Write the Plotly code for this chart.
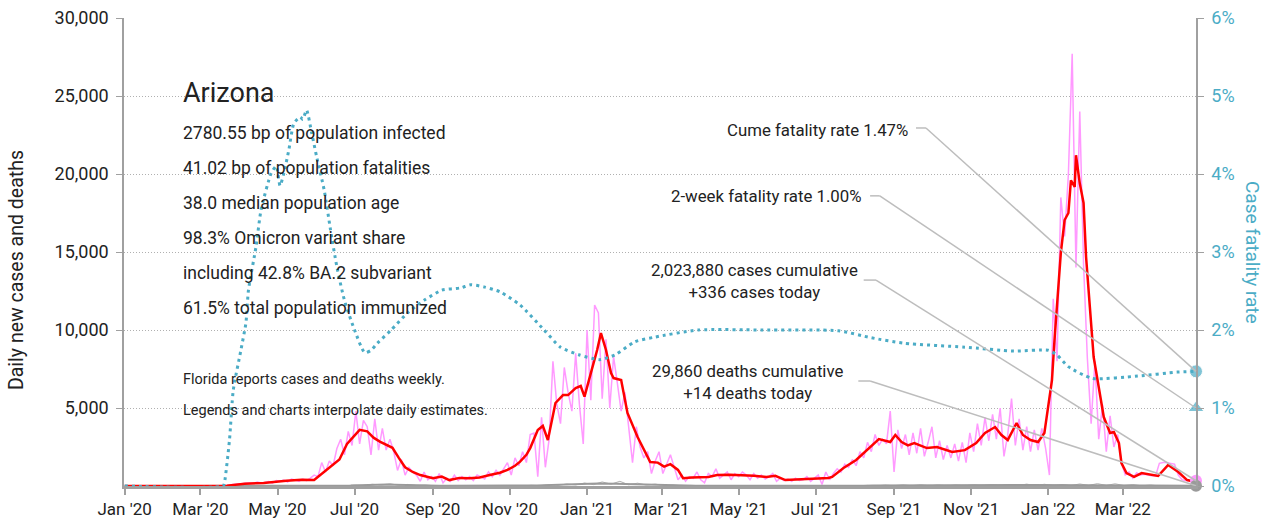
import pandas as pd
import plotly.graph_objects as go

# ---------------- data ----------------
last_date = "2022-04-28"

cfr_dates = ["2020-01-01", "2020-03-19", "2020-03-20", "2020-03-24", "2020-03-27", "2020-04-02",
             "2020-04-06", "2020-04-08", "2020-04-14", "2020-04-18", "2020-04-26", "2020-04-30",
             "2020-05-03", "2020-05-06", "2020-05-10", "2020-05-14", "2020-05-19", "2020-05-21",
             "2020-05-24", "2020-05-28", "2020-06-01", "2020-06-07", "2020-06-12", "2020-06-17",
             "2020-06-23", "2020-07-01", "2020-07-09", "2020-07-14", "2020-07-19", "2020-07-30",
             "2020-08-12", "2020-08-25", "2020-09-08", "2020-09-23", "2020-10-01", "2020-10-12",
             "2020-10-24", "2020-11-09", "2020-11-28", "2020-12-11", "2020-12-26", "2021-01-11",
             "2021-01-23", "2021-02-08", "2021-02-24", "2021-03-30", "2021-05-19", "2021-07-19",
             "2021-08-14", "2021-09-09", "2021-10-27", "2021-12-05", "2022-01-01", "2022-01-08",
             "2022-01-17", "2022-02-05", "2022-03-13", "2022-04-13", "2022-04-28"]
cfr_pct = [0, 0, 0.04, 0.59, 1.23, 1.74,
           2.09, 2.51, 3.07, 3.54, 4.01, 4.10,
           3.85, 4.01, 4.31, 4.65, 4.73, 4.70,
           4.82, 4.53, 4.22, 3.79, 3.28, 2.81,
           2.38, 2.00, 1.71, 1.74, 1.83, 2.00,
           2.22, 2.38, 2.51, 2.54, 2.58, 2.55,
           2.49, 2.32, 2.00, 1.78, 1.68, 1.62,
           1.68, 1.85, 1.91, 2.00, 2.00, 1.99,
           1.90, 1.83, 1.78, 1.73, 1.74, 1.68,
           1.53, 1.38, 1.41, 1.46, 1.47]

avg_dates = ["2020-01-01", "2020-03-15", "2020-03-22", "2020-04-05", "2020-04-20", "2020-05-08",
             "2020-05-20", "2020-05-30", "2020-06-08", "2020-06-19", "2020-06-25", "2020-07-01",
             "2020-07-05", "2020-07-11", "2020-07-16", "2020-07-21", "2020-07-26", "2020-07-31",
             "2020-08-05", "2020-08-10", "2020-08-16", "2020-08-22", "2020-09-01", "2020-09-08",
             "2020-09-14", "2020-09-22", "2020-09-30", "2020-10-08", "2020-10-16", "2020-10-24",
             "2020-10-30", "2020-11-05", "2020-11-09", "2020-11-14", "2020-11-17", "2020-11-23",
             "2020-11-27", "2020-12-01", "2020-12-07", "2020-12-13", "2020-12-17", "2020-12-23",
             "2020-12-27", "2020-12-30", "2021-01-04", "2021-01-09", "2021-01-12", "2021-01-16",
             "2021-01-20", "2021-01-22", "2021-01-28", "2021-02-02", "2021-02-10", "2021-02-15",
             "2021-02-20", "2021-02-26", "2021-03-03", "2021-03-08", "2021-03-14", "2021-03-18",
             "2021-03-25", "2021-04-07", "2021-04-14", "2021-04-24", "2021-05-03", "2021-05-13",
             "2021-05-23", "2021-05-30", "2021-06-07", "2021-06-20", "2021-07-01", "2021-07-11",
             "2021-07-14", "2021-07-23", "2021-08-02", "2021-08-12", "2021-08-20", "2021-08-29",
             "2021-09-02", "2021-09-07", "2021-09-12", "2021-09-17", "2021-09-27", "2021-10-05",
             "2021-10-12", "2021-10-17", "2021-10-27", "2021-11-05", "2021-11-12", "2021-11-20",
             "2021-11-25", "2021-11-30", "2021-12-07", "2021-12-12", "2021-12-18", "2021-12-24",
             "2021-12-29", "2022-01-01", "2022-01-04", "2022-01-06", "2022-01-09", "2022-01-11",
             "2022-01-14", "2022-01-17", "2022-01-19", "2022-01-22", "2022-01-23", "2022-01-26",
             "2022-01-29", "2022-01-31", "2022-02-03", "2022-02-06", "2022-02-10", "2022-02-14",
             "2022-02-19", "2022-02-22", "2022-02-26", "2022-02-28", "2022-03-04", "2022-03-10",
             "2022-03-16", "2022-03-29", "2022-04-06", "2022-04-14", "2022-04-21", "2022-04-28"]
avg_cases = [0, 0, 20, 150, 200, 330,
             400, 380, 1000, 1700, 2700, 3200,
             3600, 3500, 3100, 2850, 2650, 2450,
             1800, 1200, 900, 700, 500, 600,
             380, 520, 500, 550, 700, 850,
             1030, 1300, 1560, 2000, 2430, 3590,
             3850, 2950, 5320, 5830, 5830, 6280,
             6410, 5730, 7240, 8720, 9800, 8720,
             7240, 6920, 6800, 4680, 3140, 2300,
             1540, 1500, 1240, 1400, 1030, 500,
             550, 580, 700, 720, 700, 650,
             580, 650, 380, 420, 450, 510,
             580, 1150, 1670, 2430, 3010, 2820,
             3270, 2820, 2600, 2750, 2430, 2500,
             2300, 2180, 2300, 2750, 3400, 3780,
             3270, 2950, 4040, 3270, 2950, 2820,
             3400, 5060, 6790, 9360, 12370, 14940,
             17050, 17500, 19600, 19170, 21200, 19400,
             18140, 14680, 11470, 8270, 6350, 4420,
             3400, 3460, 2750, 1470, 830, 580,
             830, 640, 1350, 900, 380, 260]

raw_start = "2020-03-01"   # daily reports, one reading every 3 days
raw_cases = [0, 0, 0, 2, 5, 10, 25, 40, 80, 120,
             150, 140, 200, 190, 170, 250, 200, 230, 280, 180,
             350, 300, 380, 250, 450, 380, 300, 450, 350, 500,
             700, 600, 1500, 900, 1600, 1300, 2400, 3000, 2000, 3500,
             2600, 4800, 2700, 4200, 3800, 2000, 4300, 2300, 3700, 2300,
             3000, 2200, 1000, 1700, 700, 1200, 900, 700, 300, 900,
             400, 600, 300, 800, 200, 500, 300, 700, 350, 600,
             400, 600, 350, 700, 600, 450, 900, 600, 1000, 700,
             1100, 1500, 700, 1800, 1300, 2200, 1500, 3300, 3400, 600,
             4400, 1200, 3000, 8000, 5300, 4000, 7600, 6000, 4800, 8500,
             5200, 2700, 10000, 5500, 11600, 11100, 5600, 9400, 5000, 8300,
             6600, 4800, 6000, 3600, 1500, 3800, 2500, 1800, 2200, 800,
             1600, 2200, 800, 1400, 2000, 1200, 400, 700, 300, 600,
             500, 900, 400, 200, 800, 600, 1100, 500, 700, 900,
             400, 800, 600, 900, 700, 400, 800, 500, 700, 450,
             600, 800, 300, 500, 350, 450, 300, 500, 350, 400,
             600, 300, 500, 700, 100, 900, 400, 800, 1100, 900,
             1400, 1200, 1700, 1300, 2200, 1800, 2800, 2200, 3300, 2600,
             3000, 2700, 4800, 900, 3600, 2400, 3300, 2000, 3400, 2100,
             3700, 1900, 2800, 3800, 1800, 2900, 1700, 2600, 1800, 2700,
             1600, 2800, 1500, 3400, 2200, 4000, 2600, 4400, 2900, 4600,
             3000, 5000, 1900, 3300, 5600, 2600, 4300, 2300, 3800, 2200,
             3600, 2300, 3700, 2400, 700, 12000, 8000, 18500, 16000, 20000,
             27700, 14000, 24000, 14200, 8200, 4000, 8000, 3000, 5200, 2200,
             4500, 2500, 3300, 1500, 700, 900, 500, 850, 700, 750,
             700, 650, 650, 1450, 1500, 1500, 1450, 1400, 700, 400,
             350, 340, 345]
cases_today = 336

deaths_start = "2020-03-01"  # weekly readings
deaths_avg = [0, 0, 0, 1, 3, 8, 12, 15, 18, 15, 18, 20, 15, 12, 15, 25, 30, 35,
              50, 70, 80, 90, 80, 60, 45, 35, 25, 20, 15, 12, 10, 8, 8, 10, 12,
              15, 20, 30, 40, 50, 60, 80, 100, 120,
              140, 160, 170, 150, 130, 110, 90, 70, 50, 35, 25, 20, 15, 12, 10, 10, 9,
              9, 10, 9, 8, 8, 8, 7, 7, 7, 8, 9, 10, 12, 15, 20, 25, 30, 35,
              38, 40, 40, 40, 38, 35, 35, 35, 37, 40, 45, 50, 55, 60, 65, 65, 65,
              60, 55, 60, 70, 80, 85, 85, 80, 60, 50, 40, 30, 20, 15, 14, 14, 14]
deaths_raw = [0, 0, 0, 2, 5, 12, 8, 22, 14, 25, 10, 30, 8, 20, 10, 40, 20, 55,
              30, 110, 60, 140, 50, 100, 30, 60, 15, 35, 5, 25, 4, 15, 3, 18, 6,
              25, 12, 45, 25, 80, 40, 130, 70, 190,
              90, 260, 120, 300, 80, 180, 60, 120, 30, 60, 12, 35, 5, 20, 4, 18, 3,
              16, 5, 15, 3, 14, 3, 12, 2, 13, 3, 16, 4, 22, 8, 35, 12, 55, 20,
              70, 20, 75, 15, 65, 15, 60, 20, 70, 20, 80, 25, 100, 30, 120, 25, 110,
              25, 100, 30, 130, 40, 150, 40, 140, 30, 90, 15, 60, 5, 30, 3, 28, 5]
deaths_today = 14

cume_fatality = 1.47
twoweek_fatality = 1.00

state_name = "Arizona"
stats_lines = ["2780.55 bp of population infected",
               "41.02 bp of population fatalities",
               "38.0 median population age",
               "98.3% Omicron variant share",
               "including 42.8% BA.2 subvariant",
               "61.5% total population immunized"]
note_lines = ["Florida reports cases and deaths weekly.",
              "Legends and charts interpolate daily estimates."]
cases_cumulative = "2,023,880"
deaths_cumulative = "29,860"

# ---------------- styling ----------------
FONT = "Roboto, Liberation Sans, sans-serif"
TEAL = "#4bacc6"
PINK = "#ff99ff"
RED = "#ff0000"
GRAY = "#9a9a9a"
INK = "#222222"
LEAD = "#bdbdbd"
AX = "#a0a0a0"

raw_dates = list(pd.date_range(raw_start, periods=len(raw_cases), freq="3D")) + [pd.Timestamp(last_date)]
raw_vals = raw_cases + [cases_today]
d_dates = list(pd.date_range(deaths_start, periods=len(deaths_avg), freq="7D")) + [pd.Timestamp(last_date)]
d_raw_dates = list(pd.date_range("2020-03-04", periods=len(deaths_raw), freq="7D")) + [pd.Timestamp(last_date)]

fig = go.Figure()
fig.add_trace(go.Scatter(x=raw_dates, y=raw_vals, mode="lines",
                         line=dict(color=PINK, width=1.5), hoverinfo="skip"))
fig.add_trace(go.Scatter(x=d_raw_dates, y=deaths_raw + [deaths_today], mode="lines",
                         line=dict(color="#b0b0b0", width=1), hoverinfo="skip"))
fig.add_trace(go.Scatter(x=d_dates, y=deaths_avg + [deaths_today], mode="lines",
                         line=dict(color=GRAY, width=2), hoverinfo="skip"))
fig.add_trace(go.Scatter(x=avg_dates, y=avg_cases, mode="lines",
                         line=dict(color=RED, width=2.5), hoverinfo="skip"))
fig.add_trace(go.Scatter(x=cfr_dates, y=cfr_pct, mode="lines", yaxis="y2",
                         line=dict(color=TEAL, width=3, dash="3px,4px", shape="spline", smoothing=0.6),
                         hoverinfo="skip"))
# end markers
fig.add_trace(go.Scatter(x=[last_date], y=[cases_today], mode="markers", cliponaxis=False,
                         marker=dict(color=PINK, size=12), hoverinfo="skip"))
fig.add_trace(go.Scatter(x=[last_date], y=[deaths_today], mode="markers", cliponaxis=False,
                         marker=dict(color=GRAY, size=12), hoverinfo="skip"))
fig.add_trace(go.Scatter(x=[last_date, last_date], y=[cume_fatality, twoweek_fatality], mode="markers",
                         yaxis="y2", cliponaxis=False,
                         marker=dict(color=TEAL, size=[13, 14], symbol=["circle", "triangle-up"]),
                         hoverinfo="skip"))

annotations = []
annotations.append(dict(text=state_name, xref="paper", yref="paper", x=0.053, y=0.840,
                        xanchor="left", yanchor="middle", showarrow=False,
                        font=dict(size=27, color=INK)))
for i, line in enumerate(stats_lines):
    annotations.append(dict(text=line, xref="paper", yref="paper", x=0.053, y=0.7543 - i * 0.0748,
                            xanchor="left", yanchor="middle", showarrow=False,
                            font=dict(size=17.5, color=INK)))
for i, line in enumerate(note_lines):
    annotations.append(dict(text=line, xref="paper", yref="paper", x=0.053, y=0.2265 - i * 0.0662,
                            xanchor="left", yanchor="middle", showarrow=False,
                            font=dict(size=14.5, color=INK)))

# right-side callouts
CALL = 16.8
annotations.append(dict(text=f"Cume fatality rate {cume_fatality:.2f}%", xref="paper", yref="y2",
                        x=0.733, y=4.57, xanchor="right", yanchor="middle", showarrow=False,
                        font=dict(size=CALL, color=INK)))
annotations.append(dict(text=f"2-week fatality rate {twoweek_fatality:.2f}%", xref="paper", yref="y2",
                        x=0.690, y=3.72, xanchor="right", yanchor="middle", showarrow=False,
                        font=dict(size=CALL, color=INK)))
annotations.append(dict(text=f"{cases_cumulative} cases cumulative<br>+{cases_today} cases today",
                        xref="paper", yref="y", x=0.5886, y=13140, xanchor="center", yanchor="middle",
                        align="center", showarrow=False, font=dict(size=CALL, color=INK)))
annotations.append(dict(text=f"{deaths_cumulative} deaths cumulative<br>+{deaths_today} deaths today",
                        xref="paper", yref="y", x=0.582, y=6640, xanchor="center", yanchor="middle",
                        align="center", showarrow=False, font=dict(size=CALL, color=INK)))
# axis titles
annotations.append(dict(text="Daily new cases and deaths", xref="paper", yref="paper", x=-0.1007, y=0.4615,
                        xanchor="center", yanchor="middle", textangle=-90, showarrow=False,
                        font=dict(size=19.5, color=INK)))
annotations.append(dict(text="Case fatality rate", xref="paper", yref="paper", x=1.0522, y=0.498,
                        xanchor="center", yanchor="middle", textangle=90, showarrow=False,
                        font=dict(size=19, color=TEAL)))

shapes = []
def leader(xa, xb, yref, y0, y1):
    shapes.append(dict(type="line", xref="paper", yref=yref, x0=xa, x1=xb, y0=y0, y1=y0,
                       line=dict(color=LEAD, width=1.5)))
    shapes.append(dict(type="line", xref="paper", yref=yref, x0=xb, x1=1.0, y0=y0, y1=y1,
                       line=dict(color=LEAD, width=1.5)))

leader(0.7388, 0.7481, "y2", 4.59, cume_fatality)
leader(0.696, 0.705, "y2", 3.72, twoweek_fatality)
leader(0.690, 0.7015, "y", 13200, cases_today)
leader(0.685, 0.696, "y", 6730, deaths_today)

fig.update_layout(
    template="none",
    width=1268, height=525, autosize=False,
    margin=dict(l=124, r=72, t=18, b=39, pad=0),
    paper_bgcolor="white", plot_bgcolor="white",
    showlegend=False,
    font=dict(family=FONT, size=18, color=INK),
    annotations=annotations,
    shapes=shapes,
    xaxis=dict(type="date", range=["2019-12-31 12:00", last_date], tick0="2020-01-01", dtick="M2",
               tickformat="%b '%y", showgrid=False, showline=True, linecolor=AX, linewidth=2.5,
               ticks="outside", ticklen=6, tickcolor=AX, tickwidth=1.5, zeroline=False,
               tickfont=dict(size=17, color=INK), automargin=False),
    yaxis=dict(range=[0, 30000], tickvals=[5000, 10000, 15000, 20000, 25000, 30000],
               ticktext=["5,000", "10,000", "15,000", "20,000", "25,000", "30,000"],
               showgrid=True, gridcolor="#b0b0b0", griddash="1px,2px", gridwidth=1,
               showline=True, linecolor=AX, linewidth=1.5, ticks="outside", ticklen=6,
               tickcolor=AX, zeroline=False, tickfont=dict(size=18, color=INK),
               ticklabelstandoff=4, automargin=False),
    yaxis2=dict(overlaying="y", side="right", range=[0, 6], dtick=1, ticksuffix="%",
                showgrid=False, showline=True, linecolor=AX, linewidth=1.5, ticks="outside",
                ticklen=6, tickcolor=AX, zeroline=False, tickfont=dict(size=18, color=TEAL),
                ticklabelstandoff=4, automargin=False),
)

fig.write_html("out.html", config={"displayModeBar": False},
               post_script="document.body.style.margin='0';")
